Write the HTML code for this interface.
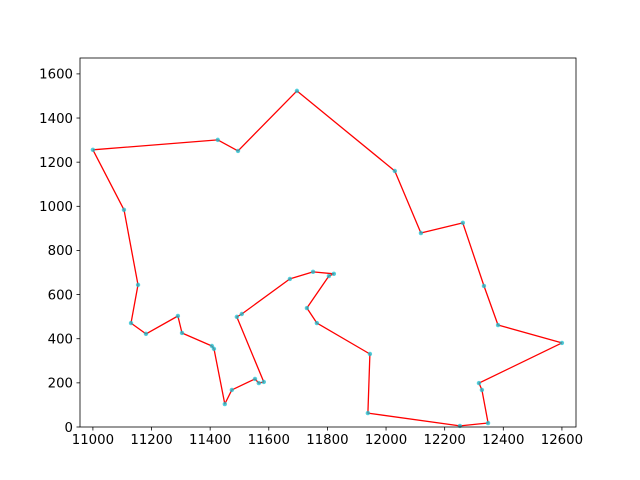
<!DOCTYPE html>
<html><head><meta charset="utf-8"><style>
html,body{margin:0;padding:0;background:#fff;}
svg{display:block;font-family:"DejaVu Sans","Liberation Sans",sans-serif;}
</style></head><body>
<svg id="chart" width="640" height="480">
<rect x="0" y="0" width="640" height="480" fill="#fff"/>
<g id="plot"></g>
</svg>
<script>
const xs = [11000,11426,11495,11696,12030,12119,12262,12334,12382,12600,12317,12327,12348,12252,11938,11945,11764,11730,11805,11822,11751,11672,11508,11491,11583,11566,11553,11474,11450,11413,11406,11304,11290,11181,11130,11154,11106];
const ys = [1256,1301,1251,1523,1160,879,925,639,462,381,199,168,18,5,63,331,471,539,684,694,703,671,512,499,204,199,218,168,104,354,367,426,503,422,471,644,984];
const xTicks = [11000,11200,11400,11600,11800,12000,12200,12400,12600];
const yTicks = [0,200,400,600,800,1000,1200,1400,1600];

const L=80,R=576,T=58,B=427;
const xMin=10956,xMax=12648,yMin=0,yMax=1672;
const sx=v=>L+(v-xMin)/(xMax-xMin)*(R-L);
const sy=v=>B-(v-yMin)/(yMax-yMin)*(B-T);
const NS="http://www.w3.org/2000/svg";
const g=document.getElementById('plot');
function mk(tag,attrs){const e=document.createElementNS(NS,tag);for(const k in attrs)e.setAttribute(k,attrs[k]);g.appendChild(e);return e;}

let pts=xs.map((x,i)=>sx(x).toFixed(1)+','+sy(ys[i]).toFixed(1));
pts.push(pts[0]);
const line=mk('polyline',{points:pts.join(' '),fill:'none',stroke:'#ff0000','stroke-width':1.3,'stroke-linejoin':'round'});


xs.forEach((x,i)=>{
  const c=mk('circle',{cx:sx(x),cy:sy(ys[i]),r:2.2,fill:'#17becf','fill-opacity':0.75});
  
  
});
const frame=mk('rect',{x:L,y:T,width:R-L,height:B-T,fill:'none',stroke:'#000','stroke-width':0.8});


xTicks.forEach(v=>{
  const x=sx(v);
  const t=mk('line',{x1:x,x2:x,y1:B,y2:B+3.5,stroke:'#000','stroke-width':0.8});
  
  
  const tx=mk('text',{x:x,y:B+17,'text-anchor':'middle','font-size':'13.3px',fill:'#000'});
  tx.textContent=v;
  
  
});
yTicks.forEach(v=>{
  const y=sy(v);
  const t=mk('line',{x1:L-3.5,x2:L,y1:y,y2:y,stroke:'#000','stroke-width':0.8});
  
  
  const tx=mk('text',{x:L-7,y:y+4.8,'text-anchor':'end','font-size':'13.3px',fill:'#000'});
  tx.textContent=v;
  
  
});
</script>
</body></html>
